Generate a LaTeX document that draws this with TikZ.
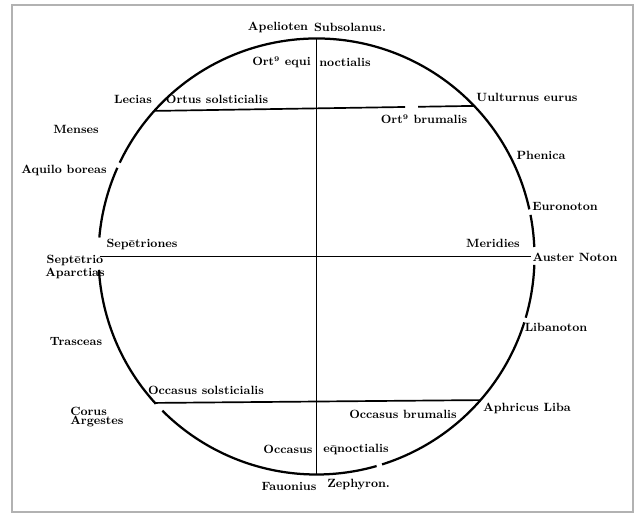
\documentclass[tikz,border=0pt]{standalone}
\usepackage{tikz}
\usetikzlibrary{calc}
\newcommand{\us}{\textsuperscript{\tiny 9}}
\newcommand{\til}[1]{\ooalign{#1\cr\hidewidth\raisebox{0.6ex}{\scriptsize\~{}}\hidewidth\cr}}

\begin{document}
\begin{tikzpicture}[x=0.025cm,y=0.025cm,
    every node/.style={font=\bfseries\fontsize{8.5}{10}\selectfont, inner sep=0pt},
    rim/.style={black, line width=1.6pt},
    chord/.style={black, line width=1.2pt}]
    \useasboundingbox (0,0) rectangle (638,514);
    \draw[gray!60, line width=1.6pt] (12,2) rectangle (633,509);

    \coordinate (c) at (316.5,257.5);

    % the circle, with the breaks of the woodcut
    \draw[rim] (c) ++(2.5:218) arc[start angle=2.5, end angle=11, radius=218]
        (c) ++(12.5:218) arc[start angle=12.5, end angle=154.5, radius=218]
        (c) ++(156:218) arc[start angle=156, end angle=175, radius=218]
        (c) ++(183.5:218) arc[start angle=183.5, end angle=222.5, radius=218]
        (c) ++(225:218) arc[start angle=225, end angle=286, radius=218]
        (c) ++(287.5:218) arc[start angle=287.5, end angle=342.4, radius=218]
        (c) ++(343.7:218) arc[start angle=343.7, end angle=357.8, radius=218];

    % cross and chords
    \coordinate (n) at ($(c)+(90:218)$);
    \coordinate (s) at ($(c)+(270:218)$);
    \coordinate (w) at ($(c)+(180:217)$);
    \coordinate (e) at ($(c)+(0:214)$);
    \coordinate (nw) at ($(c)+(138.1:218)$);
    \coordinate (ne) at ($(c)+(43.7:218)$);
    \coordinate (sw) at ($(c)+(222.2:218)$);
    \coordinate (se) at ($(c)+(318.8:218)$);
    \draw[chord] (n) -- (s);
    \draw[chord] (w) -- (e);
    \draw[chord] (nw) -- ($(nw)!0.784!(ne)$) ($(nw)!0.825!(ne)$) -- (ne);
    \draw[chord] (sw) -- (se);

    \node (1) at (278,487) {Apelioten};
    \node (2) at (350,487) {Subsolanus.};
    \node[anchor=east] (3) at (311,452) {Ort\us{} equi};
    \node[anchor=west] (4) at (319,452) {noctialis};
    \node (5) at (133,415) {Lecias};
    \node (6) at (217,415) {Ortus solsticialis};
    \node (7) at (76,385) {Menses};
    \node (8) at (64,344) {Aquilo boreas};
    \node (9) at (142,270) {Sep\til{e}triones};
    \node (10) at (75,254) {Sept\til{e}trio};
    \node (11) at (75,241) {Aparctias};
    \node (12) at (76,172) {Trasceas};
    \node[anchor=west] (13) at (70,103) {Corus};
    \node[anchor=west] (14) at (70,92) {Argestes};
    \node (15) at (206,124) {Occasus solsticialis};
    \node (16) at (288,65) {Occasus};
    \node (17) at (289,28) {Fauonius};
    \node[anchor=west] (18) at (323,66) {e\til{q}noctialis};
    \node[anchor=west] (19) at (327,29) {Zephyron.};
    \node (20) at (403,100) {Occasus brumalis};
    \node (21) at (527,106) {Aphricus Liba};
    \node (22) at (556,187) {Libanoton};
    \node (23) at (575,257) {Auster Noton};
    \node (24) at (493,271) {Meridies};
    \node (25) at (565,308) {Euronoton};
    \node (26) at (541,359) {Phenica};
    \node (27) at (527,417) {Uulturnus eurus};
    \node (28) at (424,395) {Ort\us{} brumalis};
\end{tikzpicture}
\end{document}
